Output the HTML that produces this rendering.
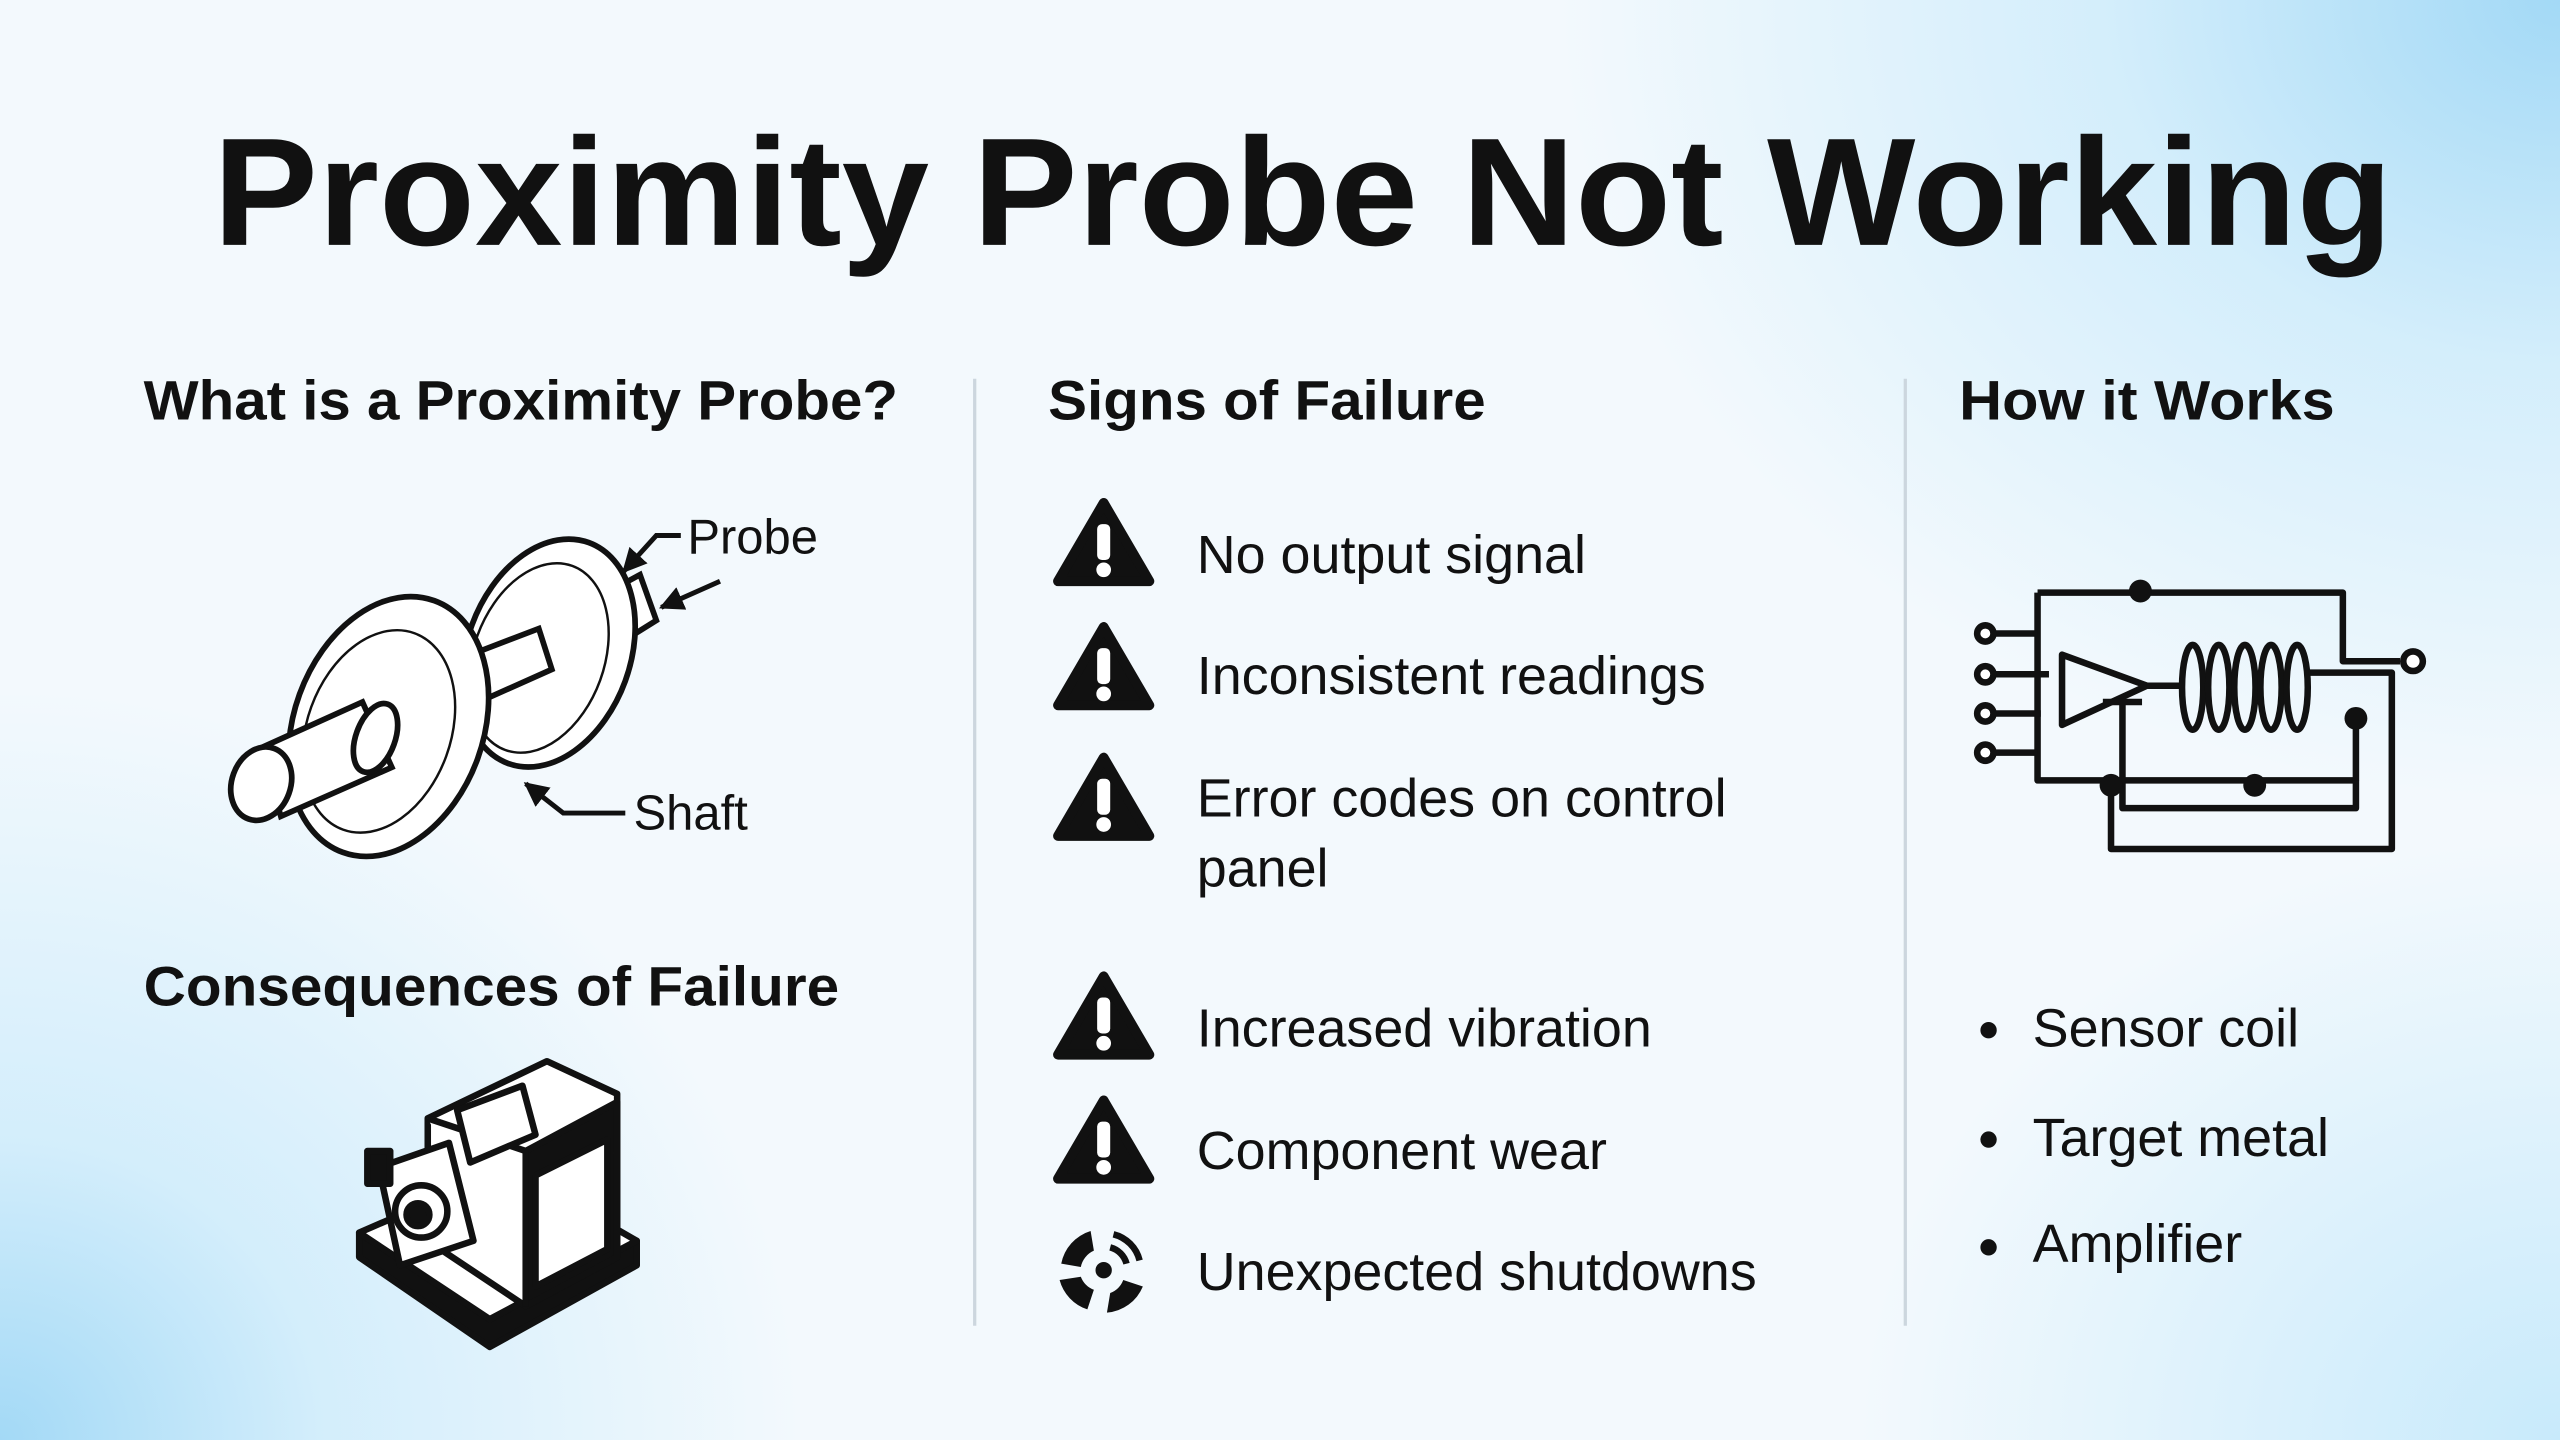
<!DOCTYPE html>
<html><head><meta charset="utf-8"><style>
html,body{margin:0;padding:0;width:2560px;height:1440px;overflow:hidden}
body{background:
radial-gradient(ellipse 1000px 800px at 2560px 0px, #a3d9f6 0%, rgba(190,230,250,0.6) 45%, rgba(255,255,255,0) 100%),
radial-gradient(ellipse 800px 750px at 0px 1440px, #a3d9f6 0%, rgba(190,230,250,0.6) 40%, rgba(255,255,255,0) 100%),
radial-gradient(ellipse 700px 600px at 2560px 1440px, #c8eafb 0%, rgba(255,255,255,0) 100%),
linear-gradient(#f3f9fd,#f3f9fd)}
svg{position:absolute;left:0;top:0}
text{font-family:"Liberation Sans",sans-serif;fill:#111}
</style></head><body>
<svg width="2560" height="1440" viewBox="0 0 1568 882">
<defs>
<marker id="ah" viewBox="0 0 10 10" refX="9" refY="5" markerWidth="5" markerHeight="5" orient="auto"><path d="M0,0 L10,5 L0,10 Z" fill="#111"/></marker>
<g id="w"><path d="M0,-26 L28,22 L-28,22 Z" fill="#111" stroke="#111" stroke-width="6" stroke-linejoin="round"/><rect x="-4" y="-13" width="8" height="22" rx="3" fill="#fff"/><circle cx="0" cy="15" r="4.5" fill="#fff"/></g>
</defs>
<text x="798" y="150" text-anchor="middle" font-size="94" font-weight="bold" textLength="1335" lengthAdjust="spacingAndGlyphs">Proximity Probe Not Working</text>
<g font-weight="bold" font-size="34">
<text x="88" y="257" textLength="462" lengthAdjust="spacingAndGlyphs">What is a Proximity Probe?</text>
<text x="642" y="257" textLength="268" lengthAdjust="spacingAndGlyphs">Signs of Failure</text>
<text x="1200" y="257" textLength="230" lengthAdjust="spacingAndGlyphs">How it Works</text>
<text x="88" y="616" textLength="426" lengthAdjust="spacingAndGlyphs">Consequences of Failure</text>
</g>
<line x1="597" y1="232" x2="597" y2="812" stroke="#ccd6de" stroke-width="2"/>
<line x1="1167" y1="232" x2="1167" y2="812" stroke="#ccd6de" stroke-width="2"/>
<use href="#w" x="676" y="334"/><use href="#w" x="676" y="410"/><use href="#w" x="676" y="490"/><use href="#w" x="676" y="624"/><use href="#w" x="676" y="700"/>
<g transform="translate(676,778)" fill="#111"><path d="M-8,-24 A26,26 0 0 0 -26,-4 L-14,-2 A14,14 0 0 1 -6,-12Z"/><path d="M-27,6 A26,26 0 0 0 -10,24 L-6,12 A14,14 0 0 1 -14,4Z"/><path d="M2,26 A26,26 0 0 0 24,10 L12,6 A14,14 0 0 1 4,14Z"/><path d="M4,-14 A14,14 0 0 1 14,-4 M6,-22 A22,22 0 0 1 22,-6" fill="none" stroke="#111" stroke-width="4"/><circle r="5"/></g>
<g font-size="33">
<text x="733" y="351">No output signal</text>
<text x="733" y="425">Inconsistent readings</text>
<text x="733" y="500">Error codes on control</text>
<text x="733" y="543">panel</text>
<text x="733" y="641">Increased vibration</text>
<text x="733" y="716">Component wear</text>
<text x="733" y="790">Unexpected shutdowns</text>
<text x="1245" y="641">Sensor coil</text>
<text x="1245" y="708">Target metal</text>
<text x="1245" y="773">Amplifier</text>
</g>
<circle cx="1218" cy="631" r="5" fill="#111"/><circle cx="1218" cy="698" r="5" fill="#111"/><circle cx="1218" cy="764" r="5" fill="#111"/>
<!-- circuit -->
<g fill="none" stroke="#111" stroke-width="4" stroke-linejoin="round">
<path d="M1248,363 H1435 V405 H1470"/>
<path d="M1248,363 V478 H1443 V440"/>
<path d="M1222,388 H1248 M1222,413 H1255 M1222,437 H1250 M1222,461 H1248"/>
<path d="M1263,401 L1315,420 L1263,444 Z"/>
<path d="M1315,420 H1336"/>
<ellipse cx="1343" cy="421" rx="6.5" ry="26"/><ellipse cx="1359" cy="421" rx="6.5" ry="26"/><ellipse cx="1375" cy="421" rx="6.5" ry="26"/><ellipse cx="1391" cy="421" rx="6.5" ry="26"/><ellipse cx="1407" cy="421" rx="6.5" ry="26"/>
<path d="M1414,412 H1465 V520 H1293 V481"/>
<path d="M1288,430 H1312 M1300,430 V495 H1443 V478"/>
</g>
<g fill="#111"><circle cx="1311" cy="362" r="7"/><circle cx="1293" cy="481" r="7"/><circle cx="1381" cy="481" r="7"/><circle cx="1443" cy="440" r="7"/></g>
<g fill="#fff" stroke="#111" stroke-width="4"><circle cx="1216" cy="388" r="5"/><circle cx="1216" cy="413" r="5"/><circle cx="1216" cy="437" r="5"/><circle cx="1216" cy="461" r="5"/><circle cx="1478" cy="405" r="6"/></g>
<!-- probe -->
<g stroke="#111" stroke-width="3.5" fill="#fff">
<path d="M368,365 L392,352 L402,380 L378,395 Z"/>
<ellipse cx="336" cy="400" rx="50" ry="72" transform="rotate(20 336 400)"/>
<ellipse cx="330" cy="403" rx="40" ry="60" transform="rotate(20 330 403)" fill="none" stroke-width="1.5"/>
<path d="M270,408 L330,385 L338,410 L282,435 Z"/>
<ellipse cx="238" cy="445" rx="58" ry="82" transform="rotate(20 238 445)"/>
<ellipse cx="232" cy="448" rx="44" ry="64" transform="rotate(20 232 448)" fill="none" stroke-width="1.5"/>
<path d="M160,458 L222,430 L240,470 L172,500 Z"/>
<ellipse cx="230" cy="452" rx="12" ry="22" transform="rotate(20 230 452)"/>
<ellipse cx="160" cy="480" rx="18" ry="23" transform="rotate(20 160 480)"/>
</g>
<g stroke="#111" stroke-width="3" fill="none"><path d="M417,328 H402 L382,350" marker-end="url(#ah)"/><path d="M441,356 L405,372" marker-end="url(#ah)"/><path d="M383,498 H345 L322,480" marker-end="url(#ah)"/></g>
<g font-size="30"><text x="421" y="339">Probe</text><text x="388" y="508">Shaft</text></g>
<!-- machine -->
<g stroke="#111" stroke-width="4" stroke-linejoin="round" fill="#fff">
<path d="M220,770 L300,825 L390,775 L390,760 L300,808 L220,755 Z" fill="#111"/>
<path d="M220,755 L300,808 L390,760 L312,715 Z"/>
<path d="M262,685 L335,650 L378,670 L378,770 L322,800 L262,760 Z"/>
<path d="M322,705 L378,675 L378,770 L322,800 Z" fill="#111"/>
<path d="M328,720 L372,698 L372,765 L328,788 Z" fill="#fff"/>
<path d="M262,685 L322,705 L322,800"/>
<path d="M280,680 L320,665 L328,695 L288,712 Z"/>
<path d="M232,715 L275,700 L290,760 L245,775 Z" fill="#fff"/>
<circle cx="258" cy="742" r="16"/><circle cx="256" cy="744" r="7" fill="#111"/>
<rect x="225" y="705" width="14" height="20" fill="#111"/>
</g>
</svg>
</body></html>
